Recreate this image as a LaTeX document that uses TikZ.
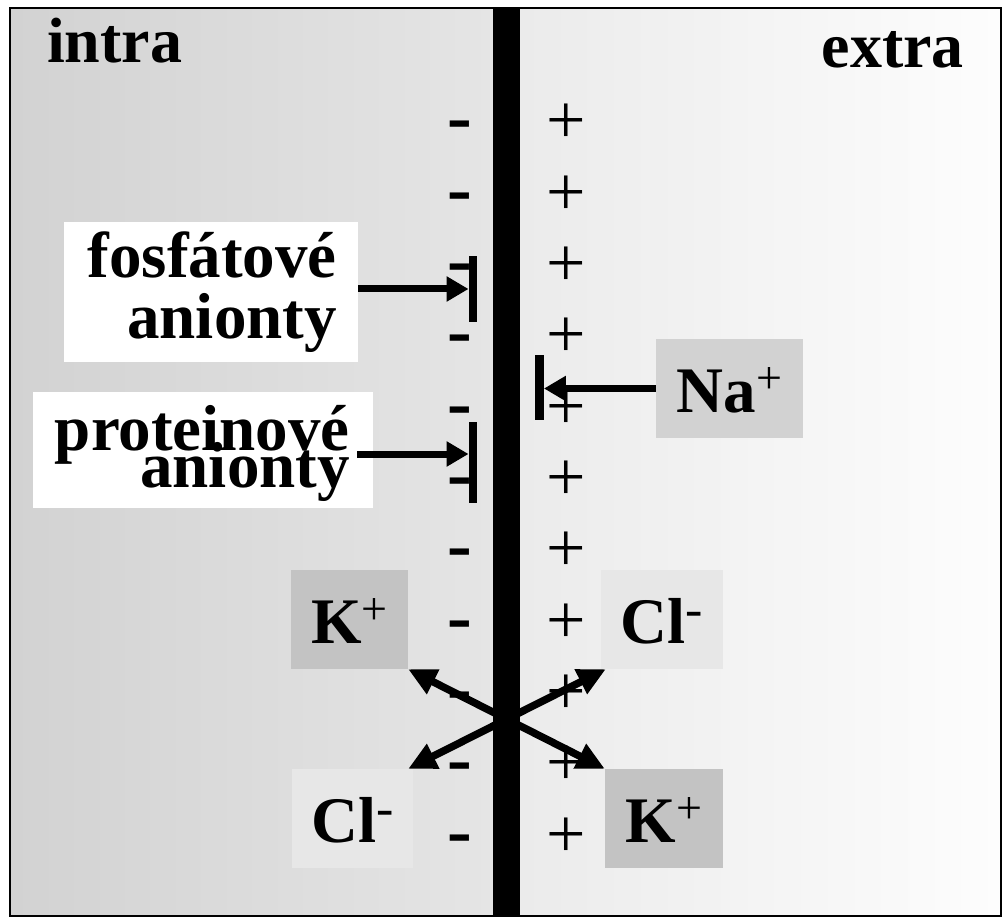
\documentclass[tikz,border=0pt]{standalone}
\usepackage{fontspec}
\setmainfont{Liberation Serif}
\usetikzlibrary{arrows.meta}
\definecolor{inL}{RGB}{210,210,210}
\definecolor{inR}{RGB}{229,229,229}
\definecolor{exL}{RGB}{235,235,235}
\definecolor{exR}{RGB}{253,253,253}
\definecolor{kbox}{RGB}{195,195,195}
\definecolor{nabox}{RGB}{210,210,210}
\definecolor{clbox}{RGB}{231,231,231}
\newcommand\supplus{\raisebox{0.29em}{\fontsize{46}{46}\mdseries\selectfont +}}
\newcommand\supminus{\raisebox{0.25em}{\fontsize{52}{52}\mdseries\selectfont -}}
\newcommand\tightlines{\lineskiplimit=-200pt\relax}
\begin{document}
\begin{tikzpicture}[x=1pt,y=-1pt,
  big/.style={font=\fontsize{65}{65}\bfseries\selectfont, inner sep=0pt},
  head/.style={font=\fontsize{64}{64}\bfseries\selectfont, inner sep=0pt},
  plussign/.style={font=\fontsize{70}{70}\selectfont, inner sep=0pt, anchor=base},
  minussign/.style={font=\fontsize{74}{74}\bfseries\selectfont, inner sep=0pt, anchor=base},
  lblbox/.style={fill=white, draw=none, inner sep=0pt},
  ion/.style={big, text height=47pt, text depth=0pt, minimum height=99pt},
  stopbar/.style={fill=black, draw=none, inner sep=0pt, minimum width=8.5pt},
  arr/.style={line width=7pt, -{Triangle[length=22pt,width=24pt]}},
  xarr/.style={line width=7.5pt, {Triangle[length=28pt,width=26pt]}-{Triangle[length=28pt,width=26pt]}},
]
\useasboundingbox (0,0) rectangle (1005,920);
% backgrounds
\shade[left color=inL, right color=inR] (10,8) rectangle (493,916);
\shade[left color=exL, right color=exR] (520,8) rectangle (1001,916);
% membrane
\fill[black] (493,8) rectangle (520,916);
% charges
\foreach \k in {0,...,10}{
  \pgfmathsetmacro\ym{142+71.3*\k}
  \pgfmathsetmacro\yp{144+71.3*\k}
  \node[minussign] (m\k) at (459.5,\ym) {-};
  \node[plussign] (p\k) at (566,\yp) {+};
}
% headings
\node[head, anchor=base west] (intra) at (47,63) {intra};
\node[head, anchor=base east] (extra) at (964,68) {extra};
% label boxes
\node[lblbox, minimum width=294pt, minimum height=140pt] (fosf) at (211,292) {};
\node[inner sep=0pt, font={\fontsize{65}{61}\bfseries\selectfont\tightlines}, align=right, anchor=base east] (fosflbl) at (337,338) {fosfátové\\anionty};
\node[lblbox, minimum width=340pt, minimum height=116pt] (prot) at (203,450) {};
\node[inner sep=0pt, font={\fontsize{65}{37}\bfseries\selectfont\tightlines}, align=right, anchor=base east] (protlbl) at (350,487) {proteinové\\anionty};
% stop bars
\node[stopbar, minimum height=66pt] (b1) at (473,289) {};
\node[stopbar, minimum height=81pt] (b2) at (473,462.5) {};
\node[stopbar, minimum height=65pt] (b3) at (539.5,387.5) {};
% ions
\node[ion, fill=nabox, minimum width=147pt] (na) at (729.5,388.5) {Na\supplus};
\node[ion, fill=kbox, minimum width=117pt] (kl) at (349.5,619.5) {K\supplus};
\node[ion, fill=clbox, minimum width=122pt] (clr) at (662,619.5) {Cl\supminus};
\node[ion, fill=clbox, minimum width=121pt] (cll) at (352.5,818.5) {Cl\supminus};
\node[ion, fill=kbox, minimum width=118pt] (kr) at (664,818.5) {K\supplus};
% arrows
\coordinate (p2y) at (0,454);
\draw[arr] (fosf.east |- b1.west) -- (b1.west);
\draw[arr] ([xshift=-16pt]prot.east |- p2y) -- (b2.west |- p2y);
\draw[arr] (na.west) -- (b3.east |- na.west);
\draw[xarr] (kl.south east) -- (kr.north west);
\draw[xarr] ([xshift=5pt]clr.south west) -- ([xshift=-5pt]cll.north east);
% frame
\draw[line width=2.5pt] (10,8) rectangle (1001,916);
\end{tikzpicture}
\end{document}
